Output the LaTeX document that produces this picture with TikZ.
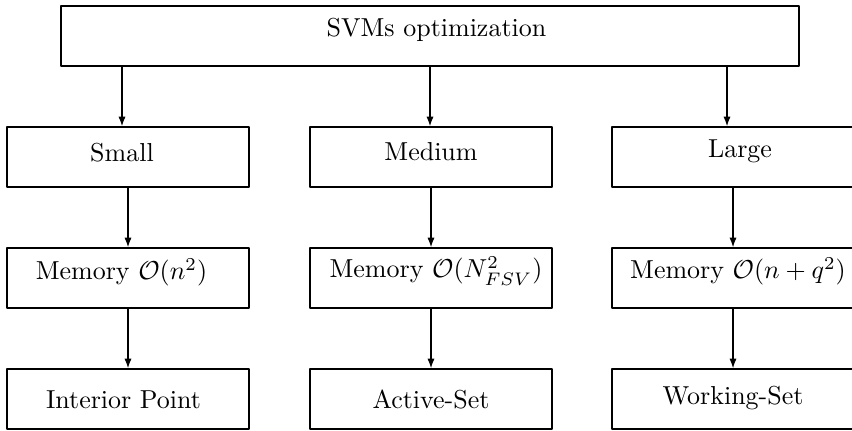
\documentclass[tikz,border=0pt]{standalone}
\usetikzlibrary{arrows.meta}
\begin{document}
\begin{tikzpicture}[x=0.385pt,y=-0.385pt,
  box/.style={draw,line width=0.9pt,line join=round,minimum width=93.17pt,
    minimum height=23.1pt,inner sep=0pt,outer sep=0pt},
  lbl/.style={anchor=base,inner sep=0pt},
  arr/.style={-{Latex[length=4pt,width=2.8pt]},line width=0.85pt}]
\useasboundingbox (0,0) rectangle (852,431);

% root box
\node[box,minimum width=284.13pt] (root) at (430,36) {};
\node[lbl] (roottxt) at (436.5,37) {SVMs optimization};

% problem size level
\node[box] (small)  at (128,157) {};
\node[box] (medium) at (431,157) {};
\node[box] (large)  at (733,157) {};
\node[lbl] (smalltxt)  at (122,162) {Small};
\node[lbl] (mediumtxt) at (431,161) {Medium};
\node[lbl] (largetxt)  at (740,158) {Large};

% memory level
\node[box] (memS) at (128,278) {};
\node[box] (memM) at (431,278) {};
\node[box] (memL) at (733,278) {};
\node[lbl] (memStxt) at (121.5,280) {Memory $\mathcal{O}(n^2)$};
\node[lbl] (memMtxt) at (436,278) {Memory $\mathcal{O}(N_{FSV}^2)$};
\node[lbl] (memLtxt) at (738,279) {Memory $\mathcal{O}(n+q^2)$};

% method level
\node[box] (ip) at (128,399) {};
\node[box] (as) at (431,399) {};
\node[box] (ws) at (733,399) {};
\node[lbl] (iptxt) at (123.5,409) {Interior Point};
\node[lbl] (astxt) at (431,409) {Active-Set};
\node[lbl] (wstxt) at (733,405) {Working-Set};

% branch positions under the root box
\coordinate (bS) at (122,0);
\coordinate (bM) at (430,0);
\coordinate (bL) at (727,0);

\draw[arr] (root.south -| bS) -- (small.north -| bS);
\draw[arr] (root.south -| bM) -- (medium.north -| bM);
\draw[arr] (root.south -| bL) -- (large.north -| bL);

\draw[arr] (small.south)  -- (memS.north);
\draw[arr] (medium.south) -- (memM.north);
\draw[arr] (large.south)  -- (memL.north);

\draw[arr] (memS.south) -- (ip.north);
\draw[arr] (memM.south) -- (as.north);
\draw[arr] (memL.south) -- (ws.north);
\end{tikzpicture}
\end{document}
